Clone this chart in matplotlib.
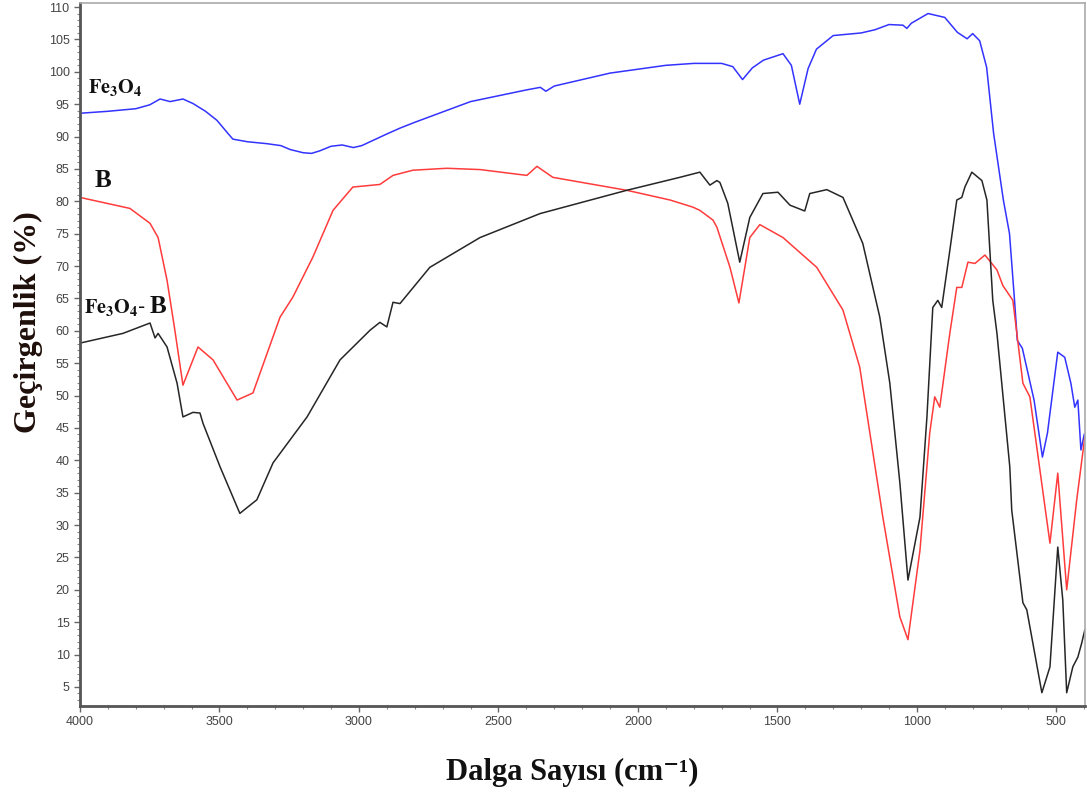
import matplotlib.pyplot as plt
from matplotlib.ticker import MultipleLocator

plt.rcParams['mathtext.fontset'] = 'stix'

# Fe3O4 (blue)
fe_wn = [4000, 3900, 3800, 3750, 3713, 3677, 3631, 3595, 3550, 3509, 3470, 3452, 3400, 3330,
         3280, 3247, 3200, 3170, 3140, 3100, 3060, 3020, 2990, 2940, 2900, 2853, 2800, 2700,
         2600, 2500, 2400, 2350, 2330, 2300, 2200, 2100, 2000, 1900, 1800, 1700, 1660, 1625,
         1590, 1550, 1480, 1450, 1420, 1390, 1360, 1300, 1200, 1150, 1100, 1050, 1036, 1020,
         960, 900, 855, 820, 800, 775, 750, 725, 690, 668, 650, 640, 622, 580, 550, 532, 495,
         470, 448, 434, 423, 412, 400]
fe_t = [93.6, 93.9, 94.3, 94.9, 95.8, 95.4, 95.8, 95.1, 93.9, 92.5, 90.5, 89.6, 89.2, 88.9,
        88.6, 88.0, 87.5, 87.4, 87.8, 88.5, 88.7, 88.3, 88.6, 89.6, 90.4, 91.3, 92.2, 93.8,
        95.4, 96.3, 97.2, 97.6, 97.0, 97.8, 98.8, 99.8, 100.4, 101.0, 101.3, 101.3, 100.8, 98.8,
        100.6, 101.8, 102.8, 101.0, 95.0, 100.5, 103.5, 105.6, 106.0, 106.5, 107.3, 107.2, 106.7, 107.5,
        109.0, 108.4, 106.1, 105.1, 105.9, 104.8, 100.7, 90.5, 80.2, 75.0, 64.7, 58.5, 57.3, 49.3, 40.5, 44.2, 56.7,
        55.9, 51.9, 48.2, 49.3, 41.6, 44.0]

# B (red)
b_wn = [4000, 3821, 3749, 3720, 3688, 3660, 3631, 3577, 3523, 3437, 3380, 3283, 3237, 3165,
        3093, 3022, 2925, 2878, 2807, 2685, 2566, 2398, 2362, 2305, 2040, 1957, 1885, 1803,
        1778, 1731, 1717, 1670, 1638, 1599, 1563, 1480, 1359, 1265, 1205, 1122, 1061, 1032,
        989, 954, 936, 918, 882, 857, 839, 817, 792, 756, 713, 692, 656, 620, 595, 523, 495,
        463, 427, 398]
b_t = [80.6, 78.9, 76.6, 74.4, 67.8, 60.1, 51.6, 57.5, 55.5, 49.3, 50.4, 62.1, 65.2, 71.4,
       78.6, 82.2, 82.6, 84.0, 84.8, 85.1, 84.9, 84.0, 85.4, 83.7, 81.7, 80.9, 80.2, 79.1,
       78.6, 77.1, 76.0, 69.8, 64.3, 74.4, 76.4, 74.4, 69.8, 63.2, 54.4, 31.2, 15.8, 12.3,
       26.1, 44.2, 49.8, 48.2, 59.6, 66.7, 66.7, 70.6, 70.4, 71.7, 69.4, 67.0, 64.7, 51.9, 49.8, 27.2, 38.0,
       20.0, 33.9, 43.6]

# Fe3O4-B (black)
fb_wn = [4000, 3846, 3749, 3731, 3720, 3688, 3652, 3631, 3595, 3570, 3559, 3498, 3427, 3366,
         3308, 3186, 3068, 2960, 2925, 2900, 2878, 2853, 2746, 2566, 2351, 2040, 1850, 1778,
         1742, 1717, 1706, 1678, 1635, 1599, 1552, 1498, 1455, 1402, 1384, 1323, 1265, 1194,
         1133, 1097, 1061, 1032, 989, 964, 943, 925, 911, 882, 857, 839, 828, 803, 767, 749,
         728, 713, 667, 660, 620, 606, 552, 523, 495, 477, 463, 441, 423, 409, 398]
fb_t = [58.1, 59.6, 61.2, 58.9, 59.6, 57.5, 51.9, 46.7, 47.4, 47.3, 45.7, 39.0, 31.8, 33.9,
        39.6, 46.7, 55.5, 60.1, 61.3, 60.6, 64.4, 64.2, 69.8, 74.4, 78.1, 81.7, 83.7, 84.5,
        82.5, 83.2, 82.9, 79.7, 70.6, 77.5, 81.2, 81.4, 79.4, 78.5, 81.2, 81.8, 80.6, 73.5,
        62.1, 51.9, 36.5, 21.5, 31.2, 46.7, 63.6, 64.7, 63.6, 72.4, 80.2, 80.6, 82.2, 84.5, 83.2, 80.2,
        64.7, 59.6, 39.0, 32.3, 18.0, 16.9, 4.1, 8.1, 26.6, 18.4, 4.1, 8.1, 9.6, 11.8, 13.8]

fig = plt.figure(figsize=(10.87, 7.94), dpi=100)
ax = fig.add_axes([0.0736, 0.111, 0.9244, 0.885])

ax.plot(fe_wn, fe_t, color='#3333ff', lw=1.1)
ax.plot(b_wn, b_t, color='#ff3b3b', lw=1.1)
ax.plot(fb_wn, fb_t, color='#262626', lw=1.1)

ax.set_xlim(4000, 398)
ax.set_ylim(2.07, 110.6)
ax.set_xticks([4000, 3500, 3000, 2500, 2000, 1500, 1000, 500])
ax.set_yticks(range(5, 111, 5))
ax.yaxis.set_minor_locator(MultipleLocator(1))
ax.xaxis.set_minor_locator(MultipleLocator(100))
ax.tick_params(which='major', length=4, width=1, color='#666666', labelsize=9,
               labelcolor='#444444', labelfontfamily='Liberation Sans')
ax.tick_params(which='minor', length=2, width=0.8, color='#888888')

for s in ['left', 'bottom']:
    ax.spines[s].set_color('#555555')
    ax.spines[s].set_linewidth(2)
for s in ['top', 'right']:
    ax.spines[s].set_color('#aaaaaa')
    ax.spines[s].set_linewidth(1.2)

serif = ['Liberation Serif', 'DejaVu Serif']
fig.text(28 / 1087, 1 - 322 / 794, 'Geçirgenlik (%)', rotation=90, fontsize=23,
         fontweight='bold', family=serif, color='#1f0f0a', ha='center', va='center')
fig.text(572 / 1087, 1 - 772 / 794, 'Dalga Sayısı (cm⁻¹)', fontsize=22,
         fontweight='bold', family=serif, color='#111111', ha='center', va='center')

ax.text(3972, 97.6, r'$\mathbf{Fe_3O_4}$', fontsize=14.5, va='center', ha='left', color='#111111')
ax.text(3946, 83.2, 'B', fontsize=18, fontweight='bold', family=serif,
        va='center', ha='left', color='#111111')
ax.text(3985, 63.6, r'$\mathbf{Fe_3O_4}$-', fontsize=14.5, va='center', ha='left', color='#111111')
ax.text(3752, 63.8, 'B', fontsize=18, fontweight='bold', family=serif,
        va='center', ha='left', color='#111111')

fig.savefig('out.png', dpi=100)
